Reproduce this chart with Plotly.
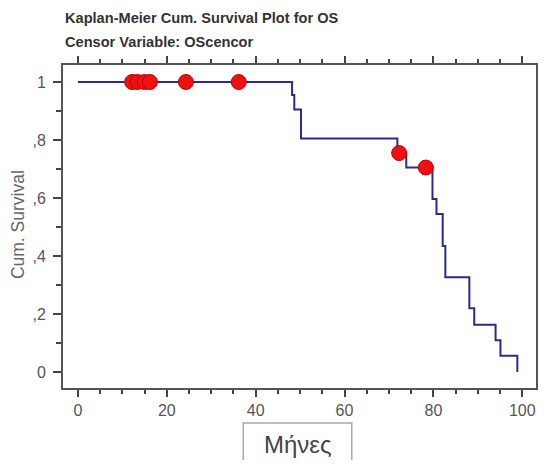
import plotly.graph_objects as go

# Kaplan-Meier step data (months, cumulative survival)
step_months = [0, 48.2, 48.7, 50.2, 71.9, 73.9, 79.8, 80.7, 82.1, 82.7, 88.1, 89.2, 94.0, 95.1, 98.9]
step_surv = [1.0, 0.955, 0.905, 0.805, 0.755, 0.705, 0.597, 0.545, 0.435, 0.327, 0.22, 0.163, 0.11, 0.056, 0.0]

# censored observations
cens_months = [12.2, 13.4, 15.0, 16.2, 24.3, 36.2, 72.3, 78.3]
cens_surv = [1.0, 1.0, 1.0, 1.0, 1.0, 1.0, 0.755, 0.705]

y_ticks = [0, 0.2, 0.4, 0.6, 0.8, 1.0]
y_labels = ["0", ",2", ",4", ",6", ",8", "1"]
x_ticks = [0, 20, 40, 60, 80, 100]

fig = go.Figure()

fig.add_trace(go.Scatter(
    x=step_months, y=step_surv, mode="lines",
    line=dict(shape="hv", color="#2b2b8c", width=2),
    hoverinfo="skip", showlegend=False
))

fig.add_trace(go.Scatter(
    x=cens_months, y=cens_surv, mode="markers",
    marker=dict(size=15, color="#ee1111", line=dict(color="#c00000", width=1)),
    showlegend=False
))

axis_font = dict(family="Liberation Sans, Arial, sans-serif", size=16, color="#555555")

fig.update_xaxes(
    range=[-3.36, 103.1], tickvals=x_ticks, ticks="outside", ticklen=7, tickwidth=2,
    tickcolor="#444444", showline=True, linecolor="#555555", linewidth=2,
    mirror="ticks", showgrid=False, zeroline=False, tickfont=axis_font,
    minor=dict(dtick=5, ticks="outside", ticklen=4, tickwidth=2, tickcolor="#444444", showgrid=False),
)
fig.update_yaxes(
    range=[-0.055, 1.0586], tickvals=y_ticks, ticktext=y_labels, ticks="outside",
    ticklen=8, tickwidth=2, tickcolor="#444444", showline=True, linecolor="#555555",
    linewidth=2, mirror=True, showgrid=False, zeroline=False, tickfont=axis_font,
    ticklabelstandoff=4,
    minor=dict(dtick=0.1, ticks="outside", ticklen=5, tickwidth=2, tickcolor="#444444", showgrid=False),
)

title_font = dict(family="Liberation Sans, Arial, sans-serif", size=14.6, color="#333333")
fig.add_annotation(text="<b>Kaplan-Meier Cum. Survival Plot for OS</b>", xref="paper", yref="paper",
                   x=0, y=1.1455, xanchor="left", yanchor="middle", showarrow=False, font=title_font)
fig.add_annotation(text="<b>Censor Variable: OScencor</b>", xref="paper", yref="paper",
                   x=0, y=1.071, xanchor="left", yanchor="middle", showarrow=False, font=title_font)

fig.add_annotation(text="Cum. Survival", xref="paper", yref="paper", x=-0.0947, y=0.505,
                   textangle=-90, showarrow=False, xanchor="center", yanchor="middle",
                   font=dict(family="Liberation Sans, Arial, sans-serif", size=17.5, color="#666666"))

# boxed x-axis title
fig.add_shape(type="rect", xref="paper", yref="paper", x0=0.381, x1=0.6105, y0=-0.108, y1=-0.32,
              line=dict(color="#aaaaaa", width=1.5), fillcolor="white")
fig.add_annotation(text="Μήνες", xref="paper", yref="paper", x=0.497, y=-0.1735,
                   showarrow=False, xanchor="center", yanchor="middle",
                   font=dict(family="Liberation Sans, Arial, sans-serif", size=24, color="#444444"))

# the page body adds an 8px margin, so the figure is shifted and kept small enough to avoid scrolling
fig.update_layout(
    width=531, height=452,
    margin=dict(l=55, r=1, t=57, b=72),
    plot_bgcolor="white", paper_bgcolor="white",
)

fig.write_html("out.html")
